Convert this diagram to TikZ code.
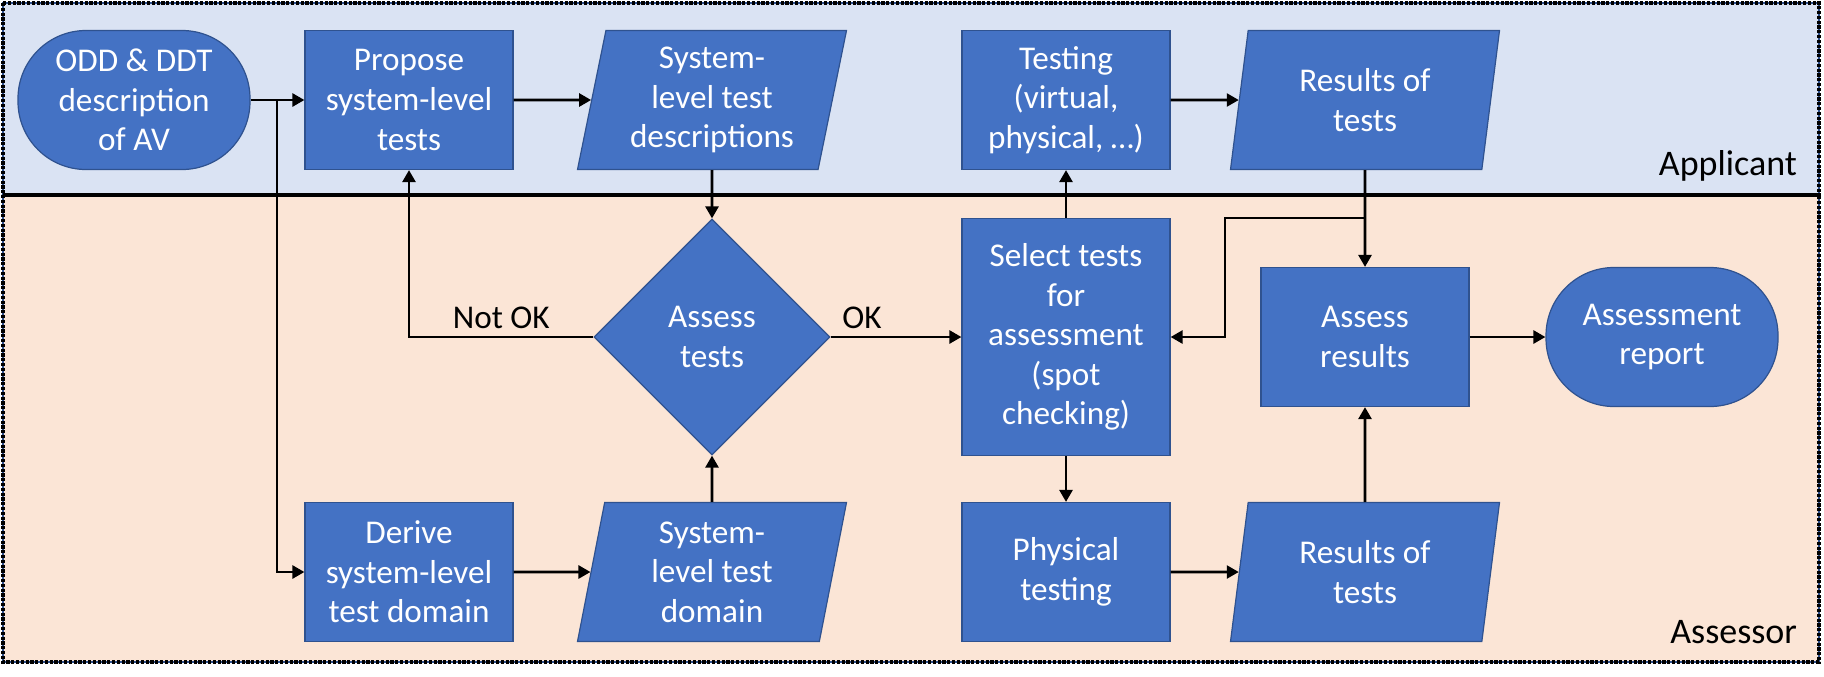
\documentclass[tikz,border=0pt]{standalone}
\usepackage{fontspec}
\setmainfont{Carlito}
\usepackage{xcolor}
\usepackage{tikz}
\usetikzlibrary{shapes.geometric, positioning, arrows.meta}

\definecolor{boxblue}{HTML}{4472C4}
\definecolor{boxedge}{HTML}{2F528F}
\definecolor{applicantbg}{HTML}{DAE3F3}
\definecolor{assessorbg}{HTML}{FBE5D6}

\tikzset{
	boxtext/.style={font=\fontsize{16.6}{19.8}\selectfont, text=white, align=center},
	block/.style={boxtext, rectangle, fill=boxblue, draw=boxedge, line width=0.6pt, minimum width=104pt, minimum height=69.5pt, inner sep=2pt},
	terminal/.style={block, minimum width=116pt, rounded corners=34pt},
	dataio/.style={boxtext, trapezium, trapezium left angle=76, trapezium right angle=104, trapezium stretches body=true, fill=boxblue, draw=boxedge, line width=0.6pt, minimum width=134.5pt, minimum height=69.5pt, inner sep=2pt},
	decision/.style={boxtext, diamond, fill=boxblue, draw=boxedge, line width=0.6pt, minimum width=118pt, minimum height=118pt, inner sep=0pt},
	flow/.style={line width=1.3pt, -{Triangle[length=6pt, width=6.5pt]}},
	flowlabel/.style={font=\fontsize{16.6}{19.8}\selectfont, text=black},
	lanelabel/.style={font=\fontsize{18}{21}\selectfont, anchor=east},
	laneline/.style={line width=0.7pt, boxedge},
	lanedots/.style={line width=1.7pt, black, dash pattern=on 1.6pt off 0.8pt}
}

\begin{document}
\begin{tikzpicture}[x=0.5pt, y=-0.5pt]
	\useasboundingbox (0,0) rectangle (1824,676);
	
	% Swimlanes
	\fill[applicantbg] (3,3) rectangle (1819,195);
	\fill[assessorbg] (3,195) rectangle (1819,662);
	\draw[laneline] (3,3) rectangle (1819,195);
	\draw[laneline] (3,195) rectangle (1819,662);
	\draw[lanedots] (3,3) rectangle (1819,195);
	\draw[lanedots] (3,195) rectangle (1819,662);
	\node[lanelabel] (applicantlbl) at (1804,166) {Applicant};
	\node[lanelabel] (assessorlbl) at (1804,632) {Assessor};
	
	% Applicant row
	\node[terminal] (odd) at (134,100) {ODD \& DDT\\description\\of AV};
	\node[block] (propose) at (409,100) {Propose\\system-level\\tests};
	\node[dataio] (testdesc) at (712,100) {System-\\level test\\descriptions};
	\node[block] (testing) at (1066,100) {Testing\\(virtual,\\physical, …)};
	\node[dataio] (results) at (1365,100) {Results of\\tests};
	
	% Assessor, middle row
	\node[decision] (assesstests) at (712,337) {Assess\\tests};
	\node[block, minimum height=118.5pt] (select) at (1066,337) {Select tests\\for\\assessment\\(spot\\checking)};
	\node[block] (assessres) at (1365,337) {Assess\\results};
	\node[terminal] (report) at (1662,337) {Assessment\\report};
	
	% Assessor, bottom row
	\node[block] (derive) at (409,572) {Derive\\system-level\\test domain};
	\node[dataio] (testdomain) at (712,572) {System-\\level test\\domain};
	\node[block] (physical) at (1066,572) {Physical\\testing};
	\node[dataio] (resultsphys) at (1365,572) {Results of\\tests};
	
	% Branch points
	\coordinate (split) at (277,100);
	\coordinate (merge) at (1225,218);
	
	% Connectors
	\draw[flow] (odd) -- (propose);
	\draw[flow] (split) |- (derive);
	\draw[flow] (propose) -- (testdesc);
	\draw[flow] (testdesc) -- (assesstests);
	\draw[flow] (assesstests.west) -- node[above, flowlabel] {Not OK} (assesstests.west -| propose.south) -- (propose.south);
	\draw[flow] (assesstests.east) -- node[above, pos=0.24, flowlabel] {OK} (select.west);
	\draw[flow] (derive) -- (testdomain);
	\draw[flow] (testdomain) -- (assesstests);
	\draw[flow] (select) -- (testing);
	\draw[flow] (testing) -- (results);
	\draw[flow] (results) -- (assessres);
	\draw[flow] (results.south |- merge) -- (merge) |- (select.east);
	\draw[flow] (select) -- (physical);
	\draw[flow] (physical) -- (resultsphys);
	\draw[flow] (resultsphys) -- (assessres);
	\draw[flow] (assessres) -- (report);
	
\end{tikzpicture}
\end{document}
